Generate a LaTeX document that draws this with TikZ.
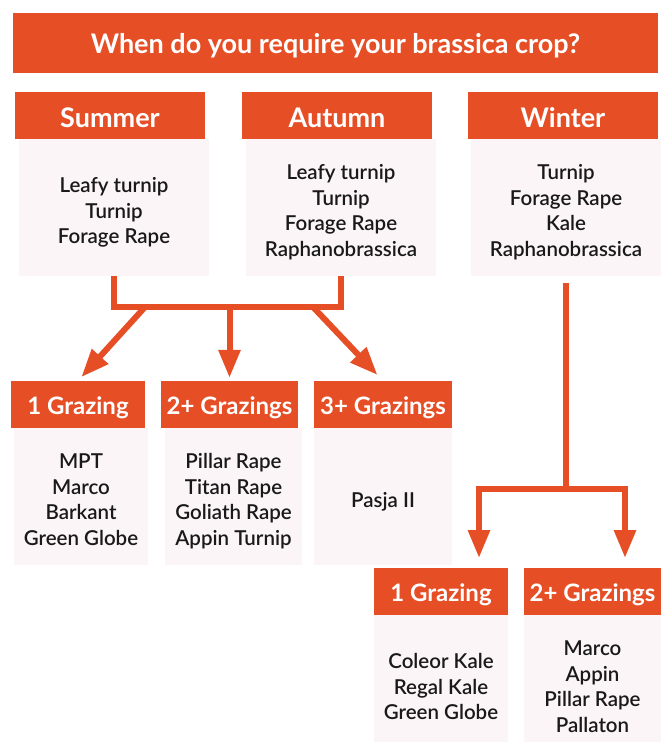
\documentclass[tikz,border=0pt]{standalone}
\usepackage{fontspec}
\setmainfont{Lato}
\newfontfamily\semifont{Lato Semibold}
\usetikzlibrary{arrows.meta}
\definecolor{brick}{RGB}{230,78,38}
\definecolor{blush}{RGB}{252,245,247}
\colorlet{inkdark}{black!90}
\newcommand{\croplist}[1]{\raisebox{-5.5pt}[\height][\depth]{\begin{tabular}{@{}c@{}}#1\end{tabular}}}
\tikzset{
  headbox/.style={fill=brick, text=white, font=\bfseries\fontsize{27}{30}\selectfont, minimum height=47pt, inner sep=0pt, text height=23pt, text depth=0pt},
  grazebox/.style={headbox, font=\bfseries\fontsize{24}{28}\selectfont, text height=19pt},
  bodybox/.style={fill=blush, text=inkdark, font=\semifont\fontsize{20.5}{25.5}\selectfont, minimum height=137pt, inner sep=0pt},
  link/.style={draw=brick, line width=6pt},
  tip/.style={-{Triangle[width=21pt,length=28pt]}}
}

\begin{document}
\begin{tikzpicture}[x=1pt,y=-1pt]
\useasboundingbox (0,0) rectangle (664,742);
\node[headbox, minimum width=645pt, minimum height=60pt, text height=20pt] (title) at (335.5,43) {When do you require your brassica crop?};
\node[headbox, minimum width=190pt] (shead) at (110,115.5) {Summer};
\node[bodybox, minimum width=190pt] (sbody) at (114,207.5) {\croplist{Leafy turnip\\Turnip\\Forage Rape}};
\node[headbox, minimum width=190pt] (ahead) at (337,115.5) {Autumn};
\node[bodybox, minimum width=190pt] (abody) at (341,207.5) {\croplist{Leafy turnip\\Turnip\\Forage Rape\\Raphanobrassica}};
\node[headbox, minimum width=190pt] (whead) at (563,115.5) {Winter};
\node[bodybox, minimum width=190pt] (wbody) at (566,207.5) {\croplist{Turnip\\Forage Rape\\Kale\\Raphanobrassica}};
\node[grazebox, minimum width=134pt] (g1head) at (78,404.5) {1 Grazing};
\node[bodybox, minimum width=134pt] (g1body) at (81,496.5) {\croplist{MPT\\Marco\\Barkant\\Green Globe}};
\node[grazebox, minimum width=137pt] (g2head) at (229.5,404.5) {2+ Grazings};
\node[bodybox, minimum width=137pt] (g2body) at (233.5,496.5) {\croplist{Pillar Rape\\Titan Rape\\Goliath Rape\\Appin Turnip}};
\node[grazebox, minimum width=138pt] (g3head) at (383,404.5) {3+ Grazings};
\node[bodybox, minimum width=138pt] (g3body) at (383,496.5) {\croplist{Pasja II}};
\node[grazebox, minimum width=134pt] (k1head) at (441,591.5) {1 Grazing};
\node[bodybox, minimum width=134pt] (k1body) at (441,683.5) {\croplist{Coleor Kale\\Regal Kale\\Green Globe}};
\node[grazebox, minimum width=137pt] (k2head) at (592.5,591.5) {2+ Grazings};
\node[bodybox, minimum width=137pt] (k2body) at (592.5,683.5) {\croplist{Marco\\Appin\\Pillar Rape\\Pallaton}};
\coordinate (sj) at (114,307);
\coordinate (aj) at (341,307);
\coordinate (s1) at (145,307);
\coordinate (s2) at (229.5,307);
\coordinate (s3) at (313,307);
\draw[link] (sbody.south) -- (sj) -- (aj) -- (abody.south);
\draw[link, tip, shorten >=5pt] (s1) -- (g1head.north);
\draw[link, tip, shorten >=3pt] (s2) -- (g2head.north);
\draw[link, tip, shorten >=8pt] (s3) -- (g3head.north);
\coordinate (wj) at (566,489);
\coordinate (wl) at (479,558);
\coordinate (wr) at (625,558);
\draw[link] ([yshift=-7pt]wbody.south) -- (wj);
\draw[link, tip] (wj) -| (wl);
\draw[link, tip] (wj) -| (wr);
\end{tikzpicture}
\end{document}
